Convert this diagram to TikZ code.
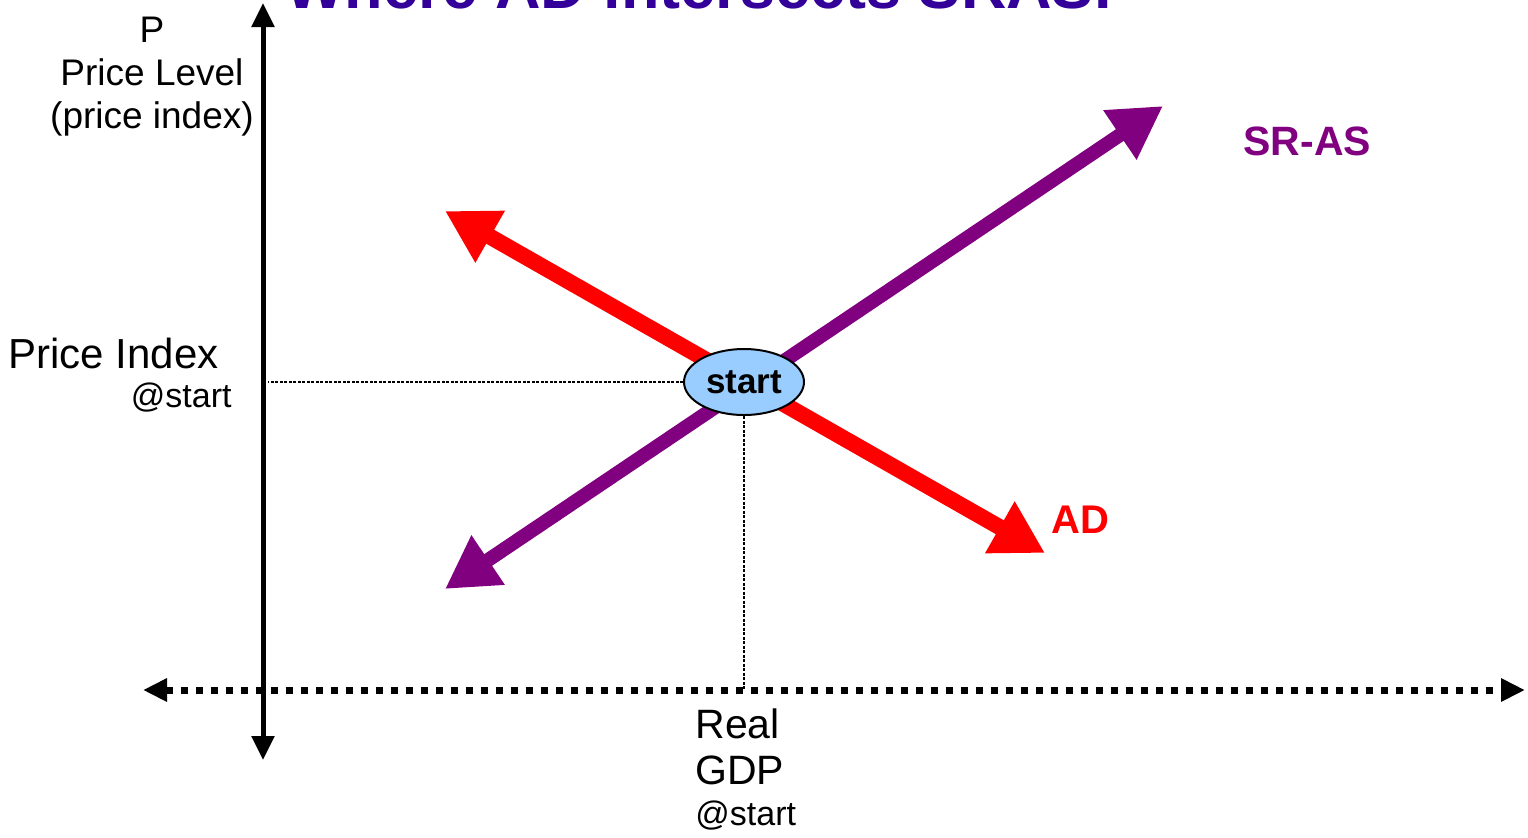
\documentclass[tikz,border=0pt]{standalone}
\usepackage{fontspec}
\setmainfont{Liberation Sans}
\usetikzlibrary{arrows.meta, positioning, shapes.geometric}
\colorlet{adred}{red}
\definecolor{aspurple}{RGB}{128,0,128}
\definecolor{titleblue}{RGB}{51,0,153}
\definecolor{startblue}{RGB}{153,204,255}

\begin{document}
\begin{tikzpicture}[x=0.5pt, y=-0.5pt,
    bigtip/.style={{Triangle[length=26pt,width=28pt]}-{Triangle[length=26pt,width=28pt]}},
    axistip/.style={{Triangle[length=12pt,width=11pt]}-{Triangle[length=12pt,width=11pt]}},
    guide/.style={line width=1pt, dash pattern=on 1.5pt off 0.75pt},
    lbl/.style={inner sep=0pt}]
  \useasboundingbox (0,0) rectangle (1528,837);

  % title, cut off at the top
  \node[lbl, anchor=base west, text=titleblue, font=\bfseries\fontsize{31.5}{36}\selectfont] (title) at (285,8) {Where AD intersects SRAS.};

  % axes
  \coordinate (ytop) at (263,3);
  \coordinate (ybot) at (263,760);
  \coordinate (xleft) at (143,690);
  \coordinate (xright) at (1525,690);
  \draw[axistip, line width=3.5pt, dash pattern=on 3.5pt off 4pt] (xleft) -- (xright);
  \draw[axistip, line width=2.5pt] (ybot) -- (ytop);

  % curves
  \coordinate (adup) at (445,211);
  \coordinate (addown) at (1045,553);
  \coordinate (aslow) at (445,589);
  \coordinate (ashigh) at (1163,106);
  \draw[bigtip, adred, line width=8pt] (adup) -- (addown);
  \draw[bigtip, aspurple, line width=7pt] (aslow) -- (ashigh);

  \node[ellipse, draw, line width=1pt, fill=startblue, minimum width=60pt, minimum height=33pt, inner sep=0pt,
        font=\bfseries\fontsize{17.5}{20}\selectfont] (start) at (744,382) {start};
  \draw[guide] (start.west) -- ([xshift=2.5pt] ytop |- start.west);
  \draw[guide] (start.south) -- (start.south |- xleft);

  % labels
  \node[lbl, anchor=north, align=center, font=\fontsize{18.5}{21.5}\selectfont] (ylabel) at (152,17) {P\\Price Level\\(price index)};
  \node[lbl, anchor=base west, font=\fontsize{21}{24}\selectfont] (pindex) at (8,368) {Price Index};
  \node[lbl, anchor=base east, font=\fontsize{17}{20}\selectfont] (pstart) at (232,407) {@start};
  \node[lbl, anchor=north west, align=left, font=\fontsize{20.5}{23}\selectfont] (gdp) at (695,708) {Real\\GDP};
  \node[lbl, anchor=base west, font=\fontsize{17}{20}\selectfont] (gdpstart) at (695,825) {@start};
  \node[lbl, anchor=base west, text=aspurple, font=\bfseries\fontsize{20.5}{24}\selectfont] (aslabel) at (1243,155) {SR-AS};
  \node[lbl, anchor=base west, text=adred, font=\bfseries\fontsize{20}{24}\selectfont] (adlabel) at (1051,533) {AD};
\end{tikzpicture}
\end{document}
